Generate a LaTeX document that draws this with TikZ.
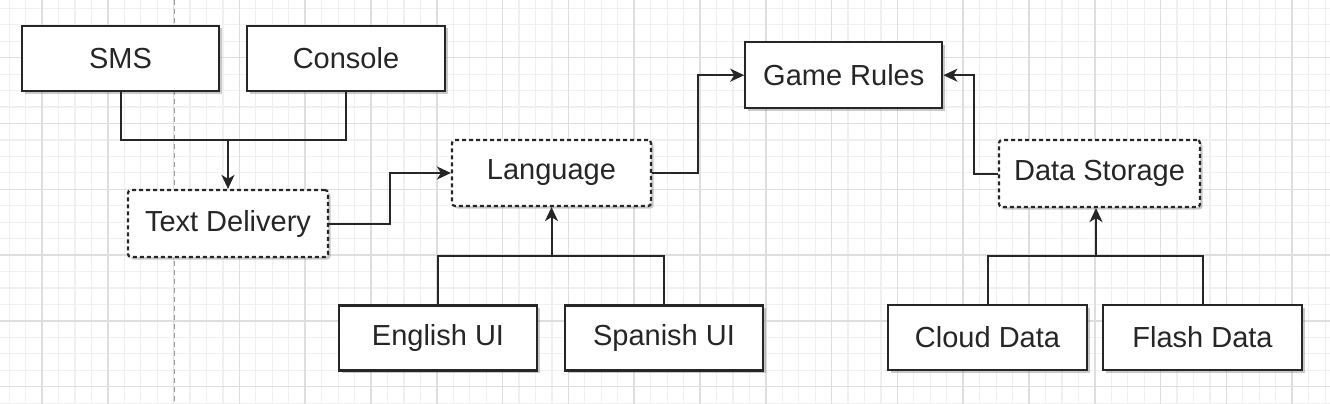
\documentclass[tikz,border=0pt]{standalone}
\usepackage{fontspec}
\setmainfont{Liberation Sans}
\usetikzlibrary{arrows.meta,shadows}
\definecolor{ink}{HTML}{262626}
\definecolor{gridminor}{HTML}{F0F0F0}
\definecolor{gridmajor}{HTML}{DEDEDE}
\tikzset{
  box/.style={draw=ink, line width=2.2pt, fill=white, minimum width=197pt, minimum height=65pt,
    inner sep=0pt, font=\fontsize{29}{34}\selectfont, text=ink,
    drop shadow={shadow xshift=2.5pt, shadow yshift=-2.5pt, opacity=0.35, fill=black!60}},
  dbox/.style={box, dash pattern=on 4pt off 3pt, rounded corners=3pt},
  conn/.style={draw=ink, line width=2pt},
  arr/.style={conn, -{Stealth[length=14pt,width=13pt,inset=4pt]}},
  gminor/.style={draw=gridminor, line width=1.2pt},
  gmajor/.style={draw=gridmajor, line width=1.5pt}
}
\begin{document}
\begin{tikzpicture}[x=1pt,y=-1pt]
\useasboundingbox (0,0) rectangle (1330,404);
\fill[white] (0,0) rectangle (1330,404);
% grid
\foreach \i in {-3,...,78} {
  \draw[gminor] (42+16.45*\i,0) -- (42+16.45*\i,404);
}
\foreach \i in {-4,...,24} {
  \draw[gminor] (0,57.7+16.45*\i) -- (1330,57.7+16.45*\i);
}
\foreach \i in {0,...,19} {
  \draw[gmajor] (42+65.8*\i,0) -- (42+65.8*\i,404);
}
\foreach \i in {-1,...,5} {
  \draw[gmajor] (0,57.7+65.8*\i) -- (1330,57.7+65.8*\i);
}
% page break line
\draw[draw=gray!80, line width=1pt, dash pattern=on 5pt off 4pt] (174,0) -- (174,404);

% nodes
\node[box] (sms) at (120.5,58.5) {SMS};
\node[box, minimum width=198pt] (console) at (346,58.5) {Console};
\node[dbox, minimum width=200pt, minimum height=67pt] (td) at (228,223.5) {Text Delivery};
\node[dbox, minimum width=199pt, minimum height=66pt] (lang) at (551.5,173) {Language};
\node[box, minimum height=66pt] (rules) at (843.8,75.2) {Game Rules};
\node[dbox, minimum width=201pt, minimum height=67pt] (ds) at (1099.5,173.5) {Data Storage};
\node[box, minimum width=198pt] (eng) at (438,338) {English UI};
\node[box, minimum width=198pt] (spa) at (664,338) {Spanish UI};
\node[box, minimum width=199pt] (cloud) at (987.5,337.5) {Cloud Data};
\node[box, minimum width=199pt] (flash) at (1202.5,337.5) {Flash Data};

% junction coordinates
\coordinate (j1) at (228,140);
\coordinate (j2) at (551.5,256);
\coordinate (j3) at (1096,256);

% connectors
\draw[conn] (sms.south) |- (j1) -| (console.south);
\draw[arr] (j1) -- (td.north);
\draw[arr] (td.east) -- ++(61,0) |- (lang.west);
\draw[arr] (lang.east) -- ++(46,0) |- (rules.west);
\draw[arr] (ds.west) -- ++(-24,0) |- (rules.east);
\draw[conn] (eng.north) |- (j2) -| (spa.north);
\draw[arr] (j2) -- (lang.south);
\draw[conn] (cloud.north) |- (j3) -| (flash.north);
\draw[arr] (j3) -- (j3 |- ds.south);
\end{tikzpicture}
\end{document}
